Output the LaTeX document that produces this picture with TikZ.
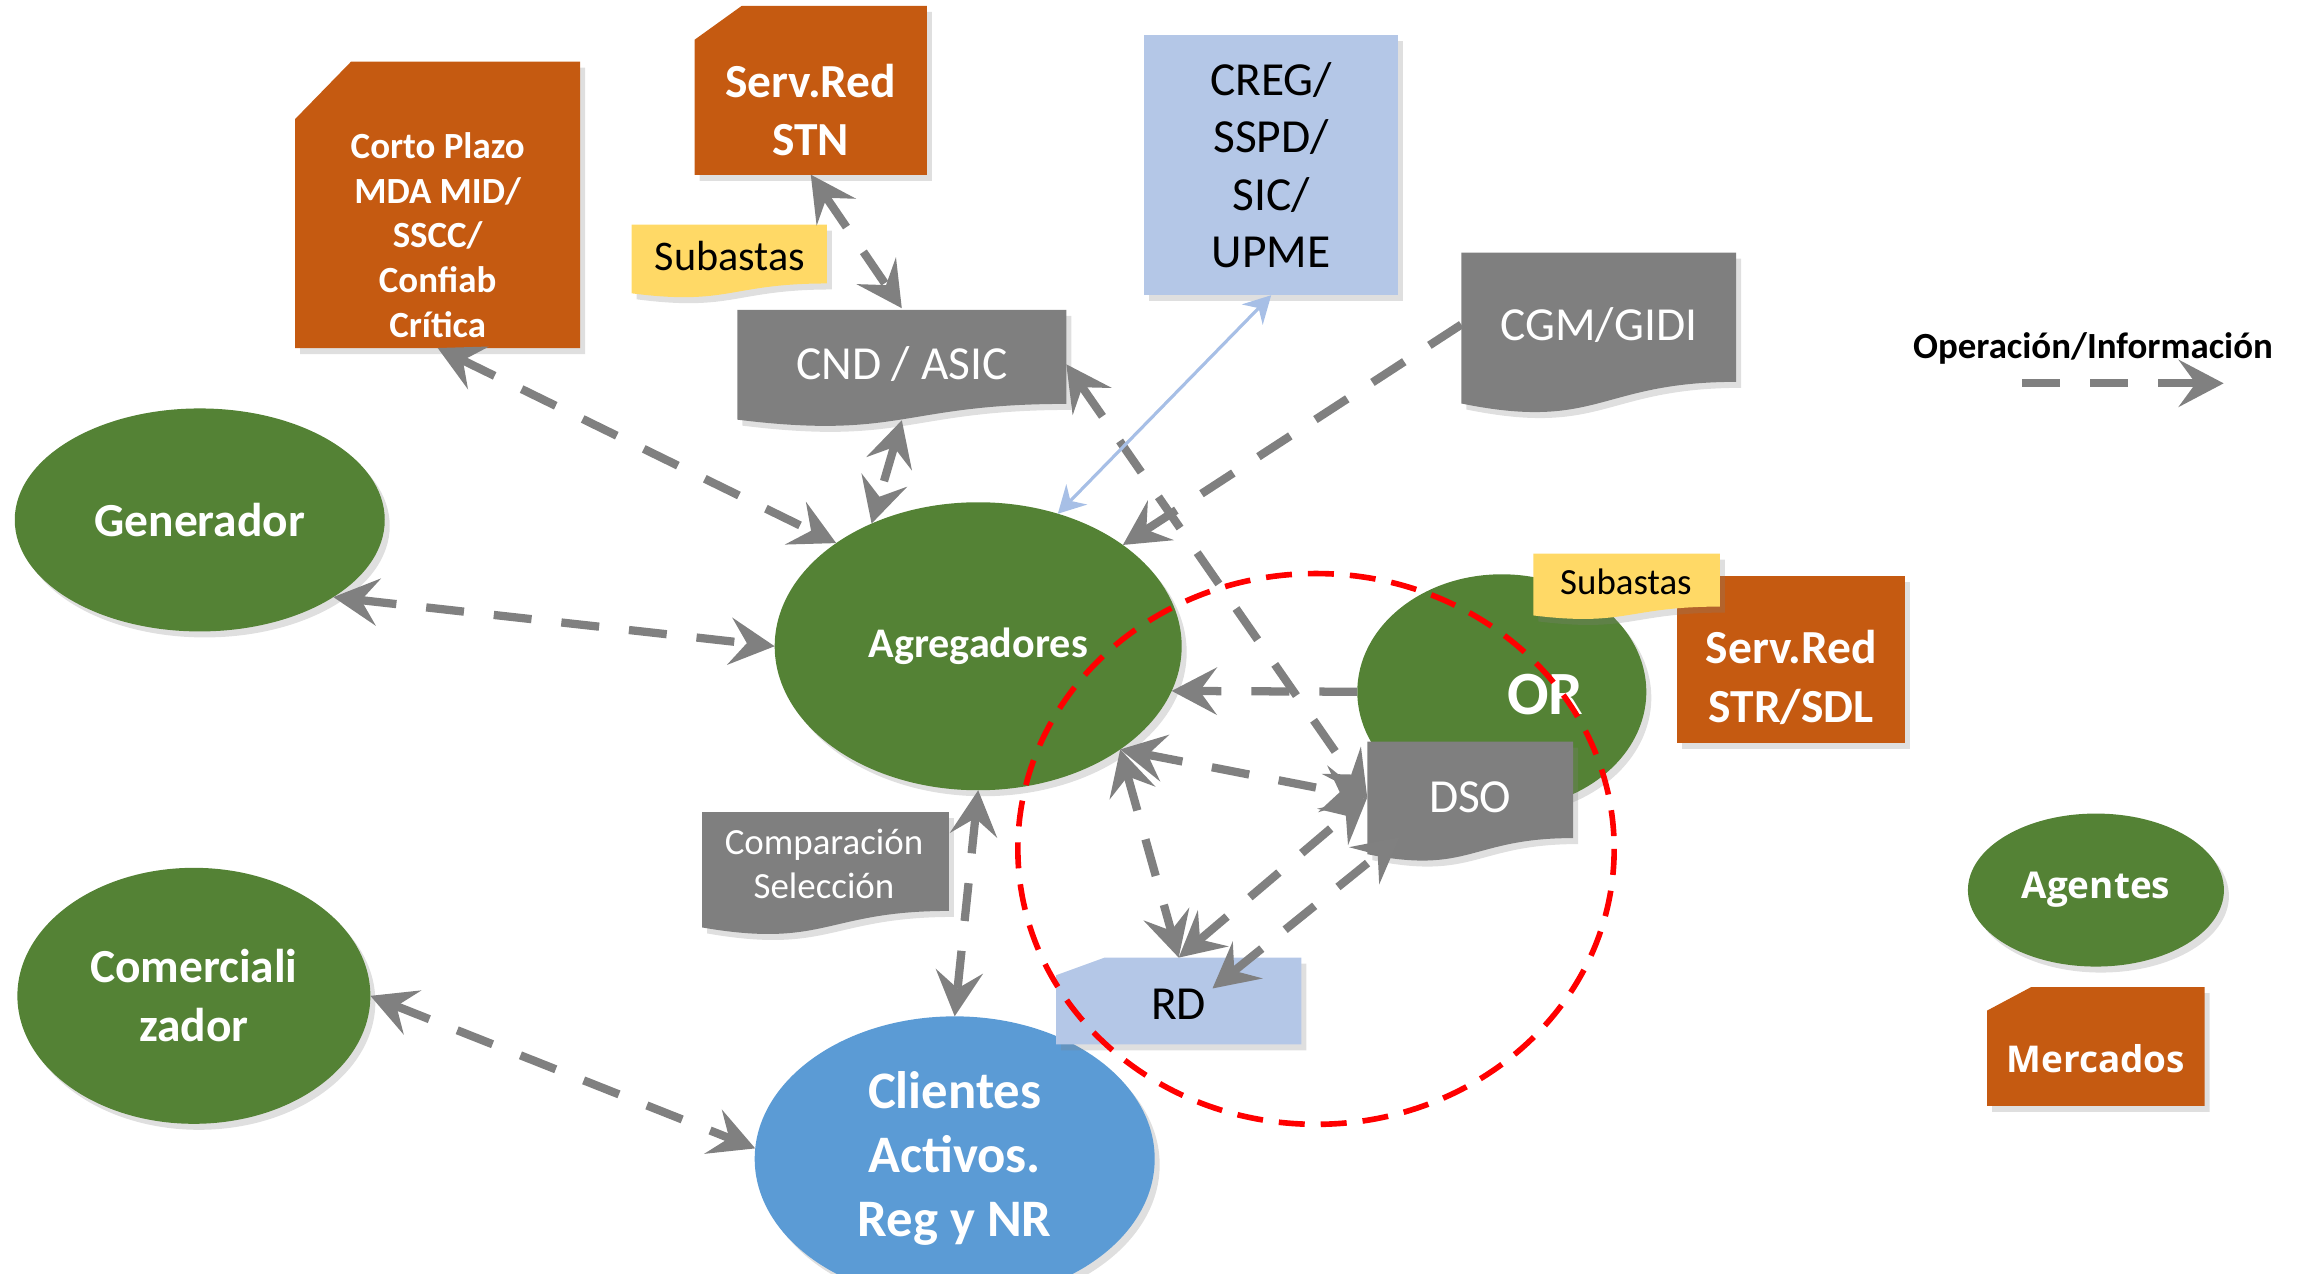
\documentclass[tikz,border=0pt]{standalone}
\usepackage{fontspec}
\setmainfont{Carlito}
\newfontfamily\keyfont{Open Sans}
\usetikzlibrary{shapes.geometric,shadows,arrows.meta,calc}

\definecolor{agentgreen}{HTML}{548235}
\definecolor{marketorange}{HTML}{C55A11}
\definecolor{boxgray}{HTML}{7F7F7F}
\definecolor{regblue}{HTML}{B4C7E7}
\definecolor{reglink}{HTML}{A7BFE6}
\definecolor{clientblue}{HTML}{5B9BD5}
\definecolor{noteyellow}{HTML}{FFD966}
\definecolor{flowgray}{HTML}{808080}

% box with its top left corner cut: x, y (top left), width, height, cut x, cut y, colour
\newcommand\snipbox[7]{%
  \fill[#7,boxshadow] (#1,{#2+#6}) -- ({#1+#5},#2) -- ({#1+#3},#2)
    -- ({#1+#3},{#2+#4}) -- (#1,{#2+#4}) -- cycle;}
% document with a wavy bottom: x, y (top left), width, height, colour
\newcommand\docbox[5]{%
  \fill[#5,boxshadow] (#1,#2) -- ({#1+#3},#2) -- ({#1+#3},{#2+0.8*#4})
    .. controls ({#1+0.5*#3},{#2+0.8*#4}) and ({#1+0.5*#3},{#2+1.107*#4})
    .. (#1,{#2+0.934*#4}) -- cycle;}
\newcommand\fsz[2]{\fontsize{#1}{#2}\selectfont}

\begin{document}
\begin{tikzpicture}[x=0.14688mm,y=-0.14688mm,
boxshadow/.style={drop shadow={shadow xshift=0.5mm,shadow yshift=-0.6mm,opacity=0.25}},
agent/.style={ellipse,fill=agentgreen,text=white,boxshadow},
opflow/.style={draw=flowgray,line width=2.35pt,dash pattern=on 3.8mm off 3mm,
  >={Stealth[length=4.5mm,width=4.7mm,inset=1.7mm]}},
regflow/.style={draw=reglink,line width=0.9pt,
  >={Stealth[length=2.7mm,width=2.9mm,inset=0.9mm]}},
zone/.style={draw=red,line width=1.6pt,dash pattern=on 2.6mm off 1.6mm}]
\tikzstyle{every node}=[inner sep=0pt,outer sep=0pt,align=center]
\useasboundingbox (0,0) rectangle (1568,867);

    % mercados y entidades arriba
    \snipbox{201}{42}{194}{195}{38}{39}{marketorange}
    \node[text=white,font=\bfseries\fsz{10.5}{12.7},minimum width=28.5mm,minimum height=22.6mm]
      (corto) at (298,160) {Corto Plazo\\MDA MID/\\SSCC/\\Confiab\\Crítica};
    \snipbox{473}{4}{158}{115}{32}{23}{marketorange}
    \node[text=white,font=\bfseries\fsz{13.5}{16.4},minimum width=23.2mm,minimum height=12.9mm]
      (stn) at (552,75) {Serv.Red\\STN};
    \docbox{430}{153}{133}{50}{noteyellow}
    \node[font=\fsz{12}{14}] (sub1) at (497,174) {Subastas};
    \docbox{502}{211}{224}{80}{boxgray}
    \node[text=white,font=\fsz{13.5}{16},minimum width=32.9mm,minimum height=11.2mm]
      (cnd) at (614,248) {CND / ASIC};
    \node[fill=regblue,boxshadow,font=\fsz{13.5}{16.4},minimum width=25.4mm,minimum height=26mm]
      (creg) at (865.5,112.5) {CREG/\\SSPD/\\SIC/\\UPME};
    \docbox{995}{172}{187}{110}{boxgray}
    \node[text=white,font=\fsz{13.5}{16},minimum width=27.5mm,minimum height=11.8mm]
      (cgm) at (1088.5,221) {CGM/GIDI};

    % agentes
    \node[agent,font=\bfseries\fsz{13.5}{16},minimum width=37mm,minimum height=22.3mm]
      (gen) at (136,354) {Generador};
    \node[agent,font=\bfseries\fsz{12}{14},minimum width=40.7mm,minimum height=28.8mm]
      (agr) at (666,440) {Agregadores};
    \node[agent,font=\bfseries\fsz{13.5}{16.7},minimum width=35.3mm,minimum height=25.6mm]
      (com) at (132,678) {Comerciali\\zador};
    \node[agent,fill=clientblue,font=\bfseries\fsz{15}{18.2},minimum width=40mm,minimum height=28.5mm]
      (cli) at (650,789) {Clientes\\Activos.\\Reg y NR};
    \node[agent,minimum width=28.9mm,minimum height=23.5mm] (or) at (1022.5,471) {};
    \node[text=white,font=\bfseries\fsz{17.5}{20}] (or-txt) at (1052,473) {OR};

    \fill[marketorange,boxshadow] (1142,392) rectangle (1297,506);
    \node[text=white,font=\bfseries\fsz{13.5}{16.7}] (strsdl) at (1219.5,461) {Serv.Red\\STR/SDL};
    \docbox{1044}{377}{127}{45}{noteyellow}
    \node[font=\fsz{10.5}{12}] (sub2) at (1107,396) {Subastas};
    \docbox{931}{505}{140}{82}{boxgray}
    \node[text=white,font=\fsz{13.5}{16},minimum width=20.6mm,minimum height=10.3mm]
      (dso) at (1001,543) {DSO};
    \docbox{478}{553}{168}{84}{boxgray}
    \node[text=white,font=\fsz{10.5}{12.6}] (cmp) at (561,588) {Comparación\\Selección};
    \snipbox{719}{652}{167}{59}{33}{12}{regblue}
    \node[font=\fsz{13.5}{16},minimum width=24.5mm,minimum height=9.4mm] (rd) at (802.5,684) {RD};

    % leyenda
    \node[agent,font=\keyfont\bfseries\fsz{10.5}{12},minimum width=25.6mm,minimum height=15.3mm]
      (agentes) at (1427,606) {Agentes};
    \snipbox{1353}{672}{148}{81}{30}{16}{marketorange}
    \node[text=white,font=\keyfont\bfseries\fsz{10.5}{12}] (mercados) at (1427,721) {Mercados};
    \node[font=\bfseries\fsz{10.5}{12}] (leyenda) at (1425,237) {Operación/Información};
    \coordinate (ley-a) at (1377,261);
    \coordinate (ley-b) at (1514,261);

    % zona del DSO
    \draw[zone] (896,578) ellipse [x radius=203,y radius=187.5];

    % flujos de operacion / informacion
    \draw[opflow,<->] (corto.south) -- (agr.144);
    \draw[opflow,<->] (stn.south) -- (cnd.north);
    \draw[opflow,<->] (cnd.south) -- (agr.131);
    \draw[opflow,<->] (cnd.east) -- (dso.west);
    \draw[opflow,->] (cgm.west) -- (agr.35);
    \draw[regflow,<->] (creg.south) -- (agr.59);
    \draw[opflow,<->] (gen.-30) -- (agr.180);
    \draw[opflow,->] (or.180) -- (agr.-13);
    \draw[opflow,<->] (agr.-36) -- (dso.west);
    \draw[opflow,<->] (agr.-36) -- (rd.north);
    \draw[opflow,<->] (rd.north) -- (dso.west);
    \draw[opflow,<->] ($(rd.north)+(23,21)$) -- ($(dso.west)+(22,27)$);
    \draw[opflow,<->] (agr.-90) -- (cli.90);
    \draw[opflow,<->] (com.0) -- (cli.177);
    \draw[opflow,->] (ley-a) -- (ley-b);

\end{tikzpicture}
\end{document}
